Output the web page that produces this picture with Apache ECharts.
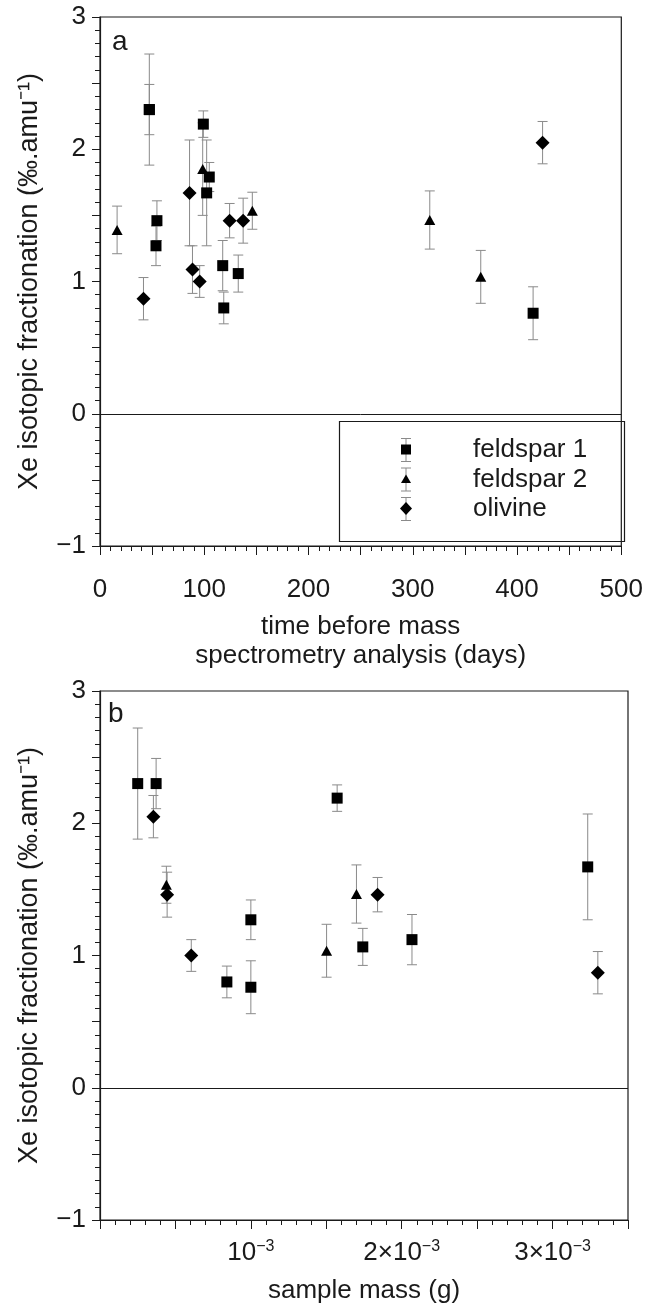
<!DOCTYPE html>
<html>
<head>
<meta charset="utf-8">
<script src="https://cdn.jsdelivr.net/npm/echarts@6/dist/echarts.min.js"></script>
<style>
  html, body { margin: 0; padding: 0; background: #fff; }
  #chart { width: 646px; height: 1309px; }
</style>
</head>
<body>
<div id="chart"></div>
<script>
// panel a: time before analysis (days)
const timeF1 = [47.3, 47.3, 54.6, 53.7, 99.1, 104.8, 102.3, 117.7, 118.7, 132.6, 415.4]
const valF1a = [2.30, 2.30, 1.46, 1.27, 2.19, 1.79, 1.67, 1.12, 0.80, 1.06, 0.76]
const errF1a = [0.42, 0.19, 0.15, 0.15, 0.10, 0.11, 0.40, 0.19, 0.12, 0.14, 0.20]

const timeF2 = [16.4, 98.5, 146.1, 316.3, 365.2]
const valF2a = [1.39, 1.85, 1.535, 1.465, 1.035]
const errF2a = [0.18, 0.35, 0.14, 0.22, 0.20]

const timeOl = [41.7, 85.9, 88.7, 95.6, 124.3, 137.3, 424.5]
const valOla = [0.87, 1.67, 1.09, 1.00, 1.46, 1.46, 2.05]
const errOla = [0.16, 0.40, 0.18, 0.12, 0.13, 0.17, 0.16]

// panel b: sample mass (g)
const massF1 = [0.00025, 0.000372, 0.000841, 0.001, 0.001, 0.001572, 0.001742, 0.002068, 0.003233]
const valF1b = [2.30, 2.30, 0.80, 1.27, 0.76, 2.19, 1.065, 1.12, 1.67]
const errF1b = [0.42, 0.19, 0.12, 0.15, 0.20, 0.10, 0.14, 0.19, 0.40]

const massF2 = [0.00044, 0.001502, 0.0017]
const valF2b = [1.535, 1.036, 1.465]
const errF2b = [0.14, 0.20, 0.22]

const massOl = [0.000354, 0.000445, 0.000605, 0.00184, 0.0033]
const valOlb = [2.05, 1.46, 1.00, 1.46, 0.87]
const errOlb = [0.16, 0.17, 0.12, 0.13, 0.16]

const groups = ['feldspar 1', 'feldspar 2', 'olivine']
const FONT = 'Liberation Sans, Arial, Helvetica, sans-serif'
const INK = '#1a1a1a'
const BAR = '#8a8a8a'

const marks = {
  'feldspar 1': { symbol: 'rect', size: 11 },
  'feldspar 2': { symbol: 'triangle', size: [11, 10] },
  'olivine': { symbol: 'diamond', size: [14, 14] }
}

// legend icons: marker with a grey error bar behind it
const iconShapes = {
  'feldspar 1': "<rect x='2' y='7.5' width='10' height='10' fill='black'/>",
  'feldspar 2': "<path d='M7 8L12 16.5H2Z' fill='black'/>",
  'olivine': "<path d='M7 6L13 12.5L7 19L1 12.5Z' fill='black'/>"
}
function legendIcon (name) {
  const svg = "<svg xmlns='http://www.w3.org/2000/svg' width='14' height='26' viewBox='0 0 14 26'>" +
    "<path d='M7 1.5V24.5M2 1.5H12M2 24.5H12' stroke='rgb(138,138,138)' stroke-width='1' fill='none'/>" +
    iconShapes[name] + '</svg>'
  return 'image://data:image/svg+xml;charset=utf-8,' + encodeURIComponent(svg)
}

function errSeries (idx, xs, ys, es) {
  return {
    type: 'custom',
    xAxisIndex: idx,
    yAxisIndex: idx,
    silent: true,
    z: 1,
    data: xs.map((x, i) => [x, ys[i] - es[i], ys[i] + es[i]]),
    encode: { x: 0, y: [1, 2] },
    renderItem (params, api) {
      const lo = api.coord([api.value(0), api.value(1)])
      const hi = api.coord([api.value(0), api.value(2)])
      const w = 5
      const style = { stroke: BAR, lineWidth: 1 }
      return {
        type: 'group',
        children: [
          { type: 'line', shape: { x1: lo[0], y1: lo[1], x2: hi[0], y2: hi[1] }, style },
          { type: 'line', shape: { x1: lo[0] - w, y1: lo[1], x2: lo[0] + w, y2: lo[1] }, style },
          { type: 'line', shape: { x1: hi[0] - w, y1: hi[1], x2: hi[0] + w, y2: hi[1] }, style }
        ]
      }
    }
  }
}

function pointSeries (idx, name, xs, ys) {
  return {
    name: name,
    type: 'scatter',
    xAxisIndex: idx,
    yAxisIndex: idx,
    symbol: marks[name].symbol,
    symbolSize: marks[name].size,
    itemStyle: { color: '#000', opacity: 1 },
    z: 3,
    data: xs.map((x, i) => [x, ys[i]])
  }
}

function zeroLine (idx) {
  return {
    type: 'line',
    xAxisIndex: idx,
    yAxisIndex: idx,
    data: [],
    silent: true,
    markLine: {
      silent: true,
      symbol: 'none',
      label: { show: false },
      lineStyle: { color: INK, type: 'solid', width: 1 },
      data: [{ yAxis: 0 }]
    }
  }
}

function yAxisFor (idx) {
  return {
    type: 'value',
    gridIndex: idx,
    min: -1,
    max: 3,
    interval: 0.5,
    name: 'Xe isotopic fractionation (‰.amu⁻¹)',
    nameLocation: 'middle',
    nameGap: 57,
    nameTextStyle: { fontFamily: FONT, fontSize: 27, color: INK },
    axisLine: { show: true, onZero: false, lineStyle: { color: INK, width: 1.2 } },
    axisTick: { show: true, length: 8, lineStyle: { color: INK } },
    minorTick: { show: true, splitNumber: 5, length: 5, lineStyle: { color: INK } },
    splitLine: { show: false },
    axisLabel: {
      margin: 14,
      fontFamily: FONT,
      fontSize: 26,
      color: INK,
      formatter: v => Number.isInteger(v) ? (v < 0 ? '\u2212' + (-v) : String(v)) : ''
    }
  }
}

const axisCommon = {
  axisLine: { show: true, onZero: false, lineStyle: { color: INK, width: 1.2 } },
  axisTick: { show: true, length: 9, lineStyle: { color: INK } },
  minorTick: { show: true, splitNumber: 5, length: 5, lineStyle: { color: INK } },
  splitLine: { show: false }
}

const chart = echarts.init(document.getElementById('chart'))

chart.setOption({
  animation: false,
  backgroundColor: '#fff',
  grid: [
    { left: 100, top: 17, width: 528, height: 529, show: true, borderColor: INK, borderWidth: 1.2 },
    { left: 100, top: 691, width: 528, height: 529, show: true, borderColor: INK, borderWidth: 1.2 }
  ],
  xAxis: [
    Object.assign({
      type: 'value',
      gridIndex: 0,
      min: 0,
      max: 500,
      interval: 50,
      name: 'time before mass\nspectrometry analysis (days)',
      nameLocation: 'middle',
      nameGap: 66,
      nameTextStyle: { fontFamily: FONT, fontSize: 26, color: INK, lineHeight: 29 },
      axisLabel: {
        margin: 31,
        fontFamily: FONT,
        fontSize: 26,
        color: INK,
        formatter: v => (v % 100 === 0 ? String(v) : '')
      }
    }, axisCommon),
    Object.assign({
      type: 'value',
      gridIndex: 1,
      min: 0,
      max: 0.0035,
      interval: 0.0005,
      name: 'sample mass (g)',
      nameLocation: 'middle',
      nameGap: 58,
      nameTextStyle: { fontFamily: FONT, fontSize: 26, color: INK },
      axisLabel: {
        margin: 19,
        fontFamily: FONT,
        fontSize: 26,
        color: INK,
        formatter: v => {
          const k = Math.round(v / 0.0005)
          if (k === 0 || k % 2) return ''
          const n = k / 2
          return (n === 1 ? '10' : n + '×10') + '{s|\u22123}'
        },
        rich: {
          s: { fontFamily: FONT, fontSize: 16, color: INK, verticalAlign: 'top', padding: [0, 0, 12, 0] }
        }
      }
    }, axisCommon)
  ],
  yAxis: [yAxisFor(0), yAxisFor(1)],
  legend: {
    data: groups.map(g => ({ name: g, icon: legendIcon(g) })),
    orient: 'vertical',
    left: 399,
    top: 437,
    padding: 0,
    itemWidth: 14,
    itemHeight: 26,
    itemGap: 3.5,
    selectedMode: false,
    textStyle: { fontFamily: FONT, fontSize: 26, color: INK, lineHeight: 26, padding: [0, 0, 0, 55] }
  },
  graphic: [
    { type: 'rect', left: 337, top: 419, shape: { width: 285, height: 120 }, style: { fill: 'none', stroke: INK, lineWidth: 1.2 }, z: 10 },
    { type: 'text', left: 112, top: 28, style: { text: 'a', font: '28px ' + FONT, fill: INK } },
    { type: 'text', left: 108, top: 700, style: { text: 'b', font: '28px ' + FONT, fill: INK } }
  ],
  series: [
    zeroLine(0),
    zeroLine(1),
    errSeries(0, timeF1, valF1a, errF1a),
    errSeries(0, timeF2, valF2a, errF2a),
    errSeries(0, timeOl, valOla, errOla),
    errSeries(1, massF1, valF1b, errF1b),
    errSeries(1, massF2, valF2b, errF2b),
    errSeries(1, massOl, valOlb, errOlb),
    pointSeries(0, 'feldspar 1', timeF1, valF1a),
    pointSeries(0, 'feldspar 2', timeF2, valF2a),
    pointSeries(0, 'olivine', timeOl, valOla),
    pointSeries(1, 'feldspar 1', massF1, valF1b),
    pointSeries(1, 'feldspar 2', massF2, valF2b),
    pointSeries(1, 'olivine', massOl, valOlb)
  ]
})
</script>
</body>
</html>
